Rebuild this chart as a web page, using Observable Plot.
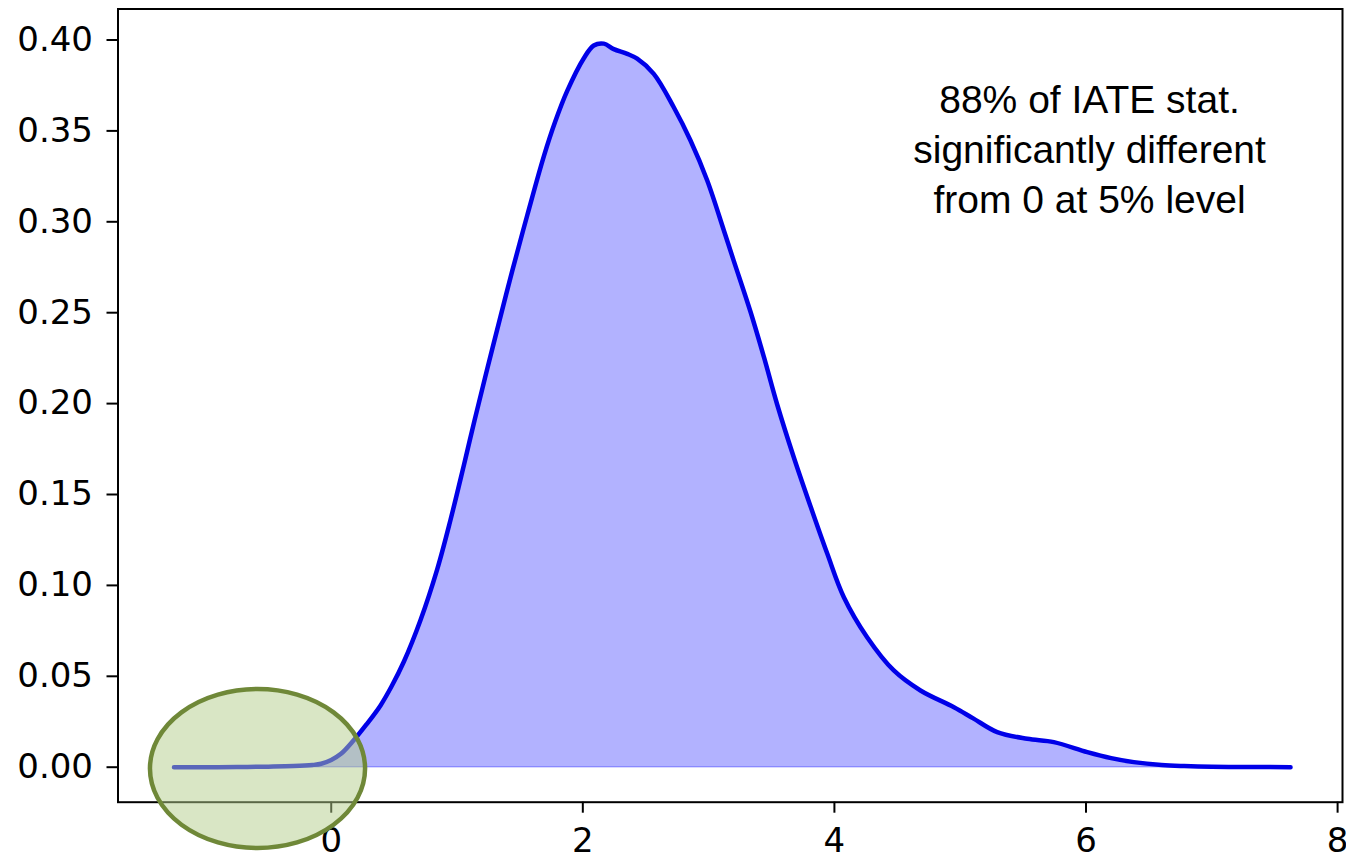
<!DOCTYPE html>
<html>
<head>
<meta charset="utf-8">
<script src="https://cdn.jsdelivr.net/npm/d3@7"></script>
<script src="https://cdn.jsdelivr.net/npm/@observablehq/plot@0.6"></script>
<style>
  html, body { margin: 0; padding: 0; background: white; }
  #chart svg { display: block; }
</style>
</head>
<body>
<div id="chart"></div>
<script>
// Density of IATE t-statistics
const statX = [-1.25, -1.0, -0.75, -0.5, -0.3, -0.15, -0.08, 0.0, 0.08, 0.177, 0.28, 0.392, 0.48, 0.577, 0.71, 0.843, 0.948, 1.054, 1.14, 1.24, 1.346, 1.439, 1.56, 1.69, 1.78, 1.876, 2.008, 2.087, 2.167, 2.246, 2.353, 2.432, 2.564, 2.723, 2.856, 2.989, 3.12, 3.2, 3.333, 3.44, 3.545, 3.677, 3.81, 3.943, 4.075, 4.26, 4.472, 4.684, 4.95, 5.1, 5.294, 5.533, 5.744, 6.01, 6.2, 6.38, 6.6, 6.78, 7.0, 7.3, 7.626];
const density = [0.0, 0.0, 0.0001, 0.0003, 0.0006, 0.0012, 0.0019, 0.004, 0.0075, 0.0147, 0.0235, 0.034, 0.0445, 0.058, 0.081, 0.109, 0.136, 0.166, 0.191, 0.219, 0.248, 0.273, 0.304, 0.336, 0.355, 0.372, 0.390, 0.397, 0.398, 0.395, 0.3924, 0.3897, 0.3814, 0.363, 0.3447, 0.3227, 0.2955, 0.2785, 0.2505, 0.2255, 0.1995, 0.1705, 0.1435, 0.1175, 0.0935, 0.0715, 0.0532, 0.0422, 0.033, 0.027, 0.0193, 0.0156, 0.0138, 0.0083, 0.005, 0.0028, 0.0012, 0.0006, 0.0002, 0.0001, 0.0];

const xTicks = [0, 2, 4, 6, 8];
const yTicks = [0, 0.05, 0.10, 0.15, 0.20, 0.25, 0.30, 0.35, 0.40];

const annotationLines = ["88% of IATE stat.", "significantly different", "from 0 at 5% level"];
const annotationAt = [{x: 6.028, y: 0.3791}];

// Highlight ellipse (data units)
const highlight = {cx: -0.582, cy: -0.001, rx: 0.855, ry: 0.0437};

const data = statX.map((x, i) => ({x, y: density[i]}));

const plot = Plot.plot({
  width: 1346,
  height: 859,
  marginLeft: 117.5,
  marginRight: 4,
  marginTop: 8.5,
  marginBottom: 57.3,
  style: {fontFamily: "DejaVu Sans", background: "white", color: "black"},
  x: {domain: [-1.695, 8.039]},
  y: {domain: [-0.01925, 0.41705]},
  marks: [
    Plot.areaY(data, {x: "x", y: "y", fill: "blue", fillOpacity: 0.3, stroke: "blue", strokeOpacity: 0.3, strokeWidth: 1.5, curve: "catmull-rom"}),
    Plot.lineY(data, {x: "x", y: "y", stroke: "#0000e8", strokeWidth: 4.5, curve: "catmull-rom"}),
    Plot.frame({stroke: "black", strokeWidth: 2}),
    Plot.axisX(xTicks, {tickSize: 11, tickPadding: 15, strokeWidth: 2, fontSize: 34, label: null, tickFormat: d => String(d)}),
    Plot.axisY(yTicks, {tickSize: 11, tickPadding: 14, strokeWidth: 2, fontSize: 34, label: null, tickFormat: d3.format(".2f")}),
    Plot.text(annotationAt, {x: "x", y: "y", text: () => annotationLines.join("\n"), lineAnchor: "top", lineHeight: 1.28, fontSize: 39, fontFamily: "Liberation Sans, Arial, sans-serif", fill: "black", textAnchor: "middle", ariaLabel: "annotation"})
  ]
});

document.getElementById("chart").appendChild(plot);

const sx = plot.scale("x"), sy = plot.scale("y");

// widen the annotation slightly, as in the reference
const tcx = sx.apply(annotationAt[0].x);
d3.select(plot).selectAll('g[aria-label="annotation"]')
  .attr("transform", `translate(${tcx},0) scale(1.09,1) translate(${-tcx},0)`);

const cx = sx.apply(highlight.cx), cy = sy.apply(highlight.cy);
const rx = Math.abs(sx.apply(highlight.cx + highlight.rx) - cx);
const ry = Math.abs(sy.apply(highlight.cy + highlight.ry) - cy);
d3.select(plot).append("ellipse")
  .attr("cx", cx).attr("cy", cy).attr("rx", rx).attr("ry", ry)
  .attr("fill", "#b4cd8c").attr("fill-opacity", 0.5)
  .attr("stroke", "#6f8838").attr("stroke-width", 4.5);
</script>
</body>
</html>
